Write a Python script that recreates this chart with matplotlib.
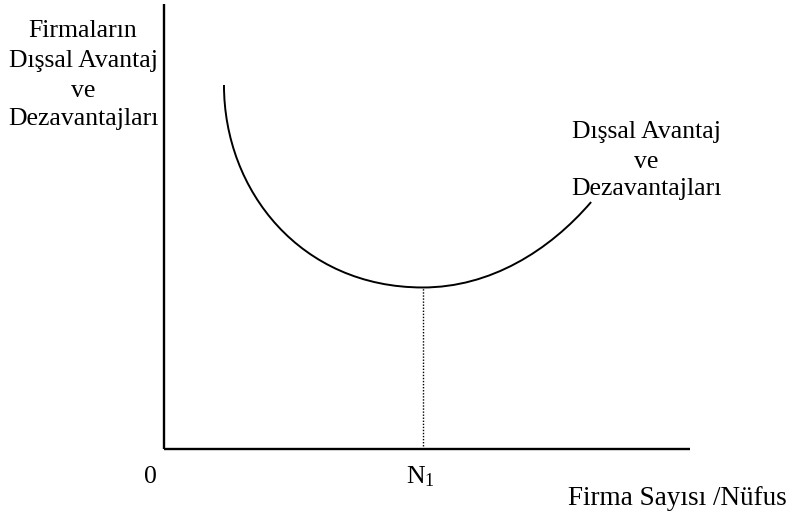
import matplotlib as mpl
mpl.use('Agg')
import matplotlib.pyplot as plt
from matplotlib.path import Path
from matplotlib.patches import PathPatch

plt.rcParams['font.family'] = ['Liberation Serif', 'DejaVu Serif']
plt.rcParams['mathtext.fontset'] = 'custom'
plt.rcParams['mathtext.rm'] = 'Liberation Serif'

# U curve as two cubic bezier pieces (vertices + control points, axes 0..100)
curve_x = [11.4, 11.4, 26.0, 49.2, 62.0, 73.2, 81.2]
curve_y = [81.8, 58.0, 36.3, 36.3, 36.3, 44.5, 55.5]

n1_x = 49.2
n1_y = 36.3

y_label = ['Firmaların', 'Dışsal Avantaj', 've', 'Dezavantajları']
curve_label = ['Dışsal Avantaj', 've', 'Dezavantajları']
x_label = 'Firma Sayısı /Nüfus'

FS = 18.5

fig = plt.figure(figsize=(7.92, 5.17), dpi=100)
ax = fig.add_axes([0, 0, 1, 1])
ax.set_xlim(-31.18, 119.39)
ax.set_ylim(-15.28, 100.9)
ax.axis('off')

# axes
ax.plot([0, 100], [0, 0], color='black', lw=1.7, solid_capstyle='butt')
ax.plot([0, 0], [0, 100], color='black', lw=1.7, solid_capstyle='butt')

# U curve
codes = [Path.MOVETO] + [Path.CURVE4] * 6
path = Path(list(zip(curve_x, curve_y)), codes)
ax.add_patch(PathPatch(path, facecolor='none', edgecolor='black', lw=1.4))

# dotted drop line at N1
ax.plot([n1_x, n1_x], [0, n1_y], color='black', lw=1.0, linestyle=(0, (1, 1.2)))

# labels
ly = [92.6, 85.8, 79.1, 72.8]
for t, yy in zip(y_label, ly):
    ax.text(-15.4, yy, t, ha='center', va='baseline', fontsize=FS)

ry = [69.9, 63.1, 57.1]
for t, yy in zip(curve_label, ry):
    ax.text(91.7, yy, t, ha='center', va='baseline', fontsize=FS)

ax.text(-2.66, -7.64, '0', ha='center', va='baseline', fontsize=FS)
ax.text(48.7, -7.64, r'$\mathregular{N_1}$', ha='center', va='baseline', fontsize=FS)
ax.text(76.8, -12.6, x_label, ha='left', va='baseline', fontsize=19.5)

fig.savefig('out.png', dpi=100)
